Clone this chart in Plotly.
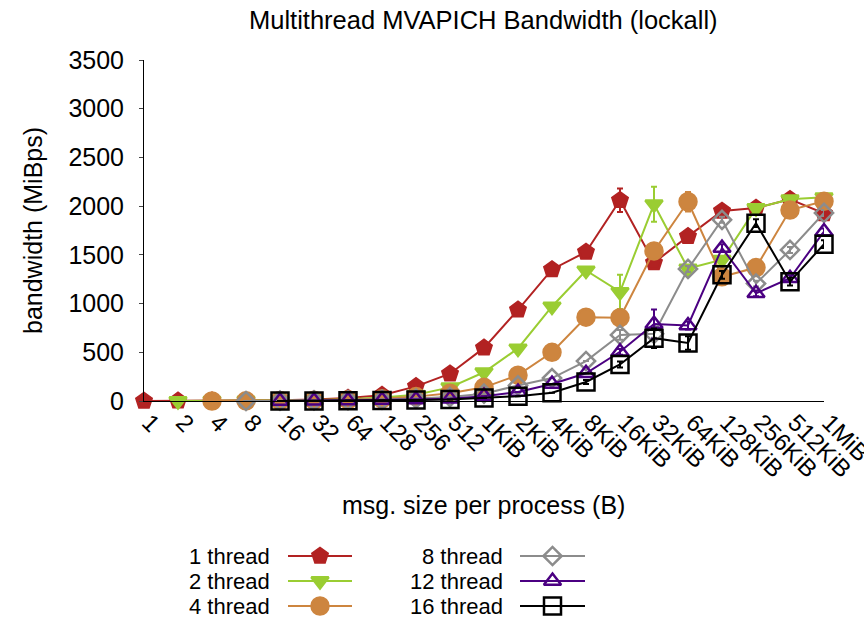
import plotly.graph_objects as go

W, H = 864, 618
categories = ["1", "2", "4", "8", "16", "32", "64", "128", "256", "512", "1KiB", "2KiB",
              "4KiB", "8KiB", "16KiB", "32KiB", "64KiB", "128KiB", "256KiB", "512KiB", "1MiB"]

t1 = [0, 1, 2, 4, 8, 15, 30, 60, 150, 280, 545, 935, 1350, 1530, 2060, 1420, 1690, 1950, 1980, 2070, 1925]
t2 = [None, 0, 2, 4, 6, 10, 18, 35, 65, 140, 295, 540, 970, 1340, 1120, 2020, 1360, 1450, 1980, 2070, 2090]
t4 = [None, None, 0, 2, 4, 8, 12, 22, 45, 80, 140, 265, 500, 860, 855, 1540, 2045, 1275, 1370, 1960, 2050]
t8 = [None, None, None, 0, 3, 6, 10, 15, 25, 40, 75, 160, 235, 410, 678, 690, 1355, 1860, 1205, 1550, 1930]
t12 = [None, None, None, None, 0, 2, 5, 10, 15, 22, 50, 92, 175, 285, 505, 790, 775, 1570, 1105, 1260, 1740]
t16 = [None, None, None, None, 0, 1, 3, 6, 10, 15, 30, 50, 85, 195, 375, 645, 595, 1295, 1825, 1225, 1610]

e1 = [0]*14 + [120, 30, 20, 20, 20, 20, 20]
e2 = [0]*14 + [175, 180, 20, 20, 20, 20, 20]
e4 = [0]*15 + [30, 100, 20, 20, 20, 20]
e8 = [0]*14 + [50, 40, 30, 30, 30, 30, 30]
e12 = [0]*14 + [30, 150, 40, 40, 30, 30, 30]
e16 = [0]*13 + [20, 30, 100, 70, 40, 40, 40, 40]

names = ["1 thread", "2 thread", "4 thread", "8 thread", "12 thread", "16 thread"]
series = [t1, t2, t4, t8, t12, t16]
errors = [e1, e2, e4, e8, e12, e16]
colors = ["#B22222", "#9ACD32", "#CD853F", "#8C8C8C", "#4B0082", "#000000"]
symbols = ["pentagon", "triangle-down", "circle", "diamond-open", "triangle-up-open", "square-open"]
msizes = [16, 15, 17, 14, 15, 17]

FONT = "Liberation Sans, Arial, sans-serif"
fig = go.Figure()
xs = list(range(len(categories)))
for name, ys, err, c, s, ms in zip(names, series, errors, colors, symbols, msizes):
    fig.add_trace(go.Scatter(
        x=xs, y=ys, name=name, mode="lines+markers", cliponaxis=False,
        line=dict(color=c, width=2),
        marker=dict(symbol=s, size=ms, color=c, line=dict(color=c, width=2.5)),
        error_y=dict(type="data", array=err, visible=True, color=c, thickness=2, width=3),
        showlegend=False,
    ))

# custom legend (text left of sample, two columns)
leg_rows = [556, 581, 606]
leg_cols = [(272, 288, 352), (505, 520, 585)]
for i, (name, c, s, ms) in enumerate(zip(names, colors, symbols, msizes)):
    col = leg_cols[i // 3]
    yrow = leg_rows[i % 3]
    fig.add_trace(go.Scatter(
        x=[col[1], (col[1] + col[2]) / 2, col[2]], y=[yrow] * 3, mode="lines",
        line=dict(color=c, width=2), xaxis="x2", yaxis="y2", showlegend=False, hoverinfo="skip"))
    fig.add_trace(go.Scatter(
        x=[(col[1] + col[2]) / 2], y=[yrow], mode="markers",
        marker=dict(symbol=s, size=ms, color=c, line=dict(color=c, width=2.5)),
        xaxis="x2", yaxis="y2", showlegend=False, hoverinfo="skip"))
    fig.add_annotation(x=col[0], y=yrow, xref="x2", yref="y2", text=name, showarrow=False,
                       xanchor="right", yanchor="middle", font=dict(size=22, color="black", family=FONT))

fig.add_annotation(x=33, y=231, xref="x2", yref="y2", text="bandwidth (MiBps)", textangle=-90,
                   showarrow=False, xanchor="center", yanchor="middle",
                   font=dict(size=25, color="black", family=FONT))
fig.add_annotation(x=483, y=505, xref="x2", yref="y2", text="msg. size per process (B)",
                   showarrow=False, xanchor="center", yanchor="middle",
                   font=dict(size=25, color="black", family=FONT))
fig.add_annotation(x=483, y=20, xref="x2", yref="y2", text="Multithread MVAPICH Bandwidth (lockall)",
                   showarrow=False, xanchor="center", yanchor="middle",
                   font=dict(size=25.5, color="black", family=FONT))

fig.update_layout(
    width=W, height=H, margin=dict(l=0, r=0, t=0, b=0, autoexpand=False),
    paper_bgcolor="white", plot_bgcolor="rgba(0,0,0,0)",
    font=dict(family=FONT, color="black", size=24),
    xaxis=dict(domain=[144 / W, 824 / W], range=[0, 20], tickmode="array", tickvals=xs,
               ticktext=categories, tickangle=45, showline=True, linecolor="black", linewidth=1,
               ticks="", showgrid=False, zeroline=False, tickfont=dict(size=24), anchor="y",
               automargin=False, ticklabeloverflow="allow", ticklabelshift=5, ticklabelstandoff=-3),
    yaxis=dict(domain=[(H - 401) / H, (H - 60) / H], range=[0, 3500], dtick=500,
               showline=True, linecolor="black", linewidth=1, ticks="outside", ticklen=4,
               showgrid=False, zeroline=False, tickfont=dict(size=25), anchor="x",
               automargin=False, ticklabelstandoff=10),
    xaxis2=dict(domain=[0, 1], range=[0, W], visible=False, anchor="y2", automargin=False),
    yaxis2=dict(domain=[0, 1], range=[H, 0], visible=False, anchor="x2", automargin=False),
)

fig.write_html("out.html", config={"displayModeBar": False},
               post_script="document.body.style.margin='0px';document.body.style.overflow='hidden';")
